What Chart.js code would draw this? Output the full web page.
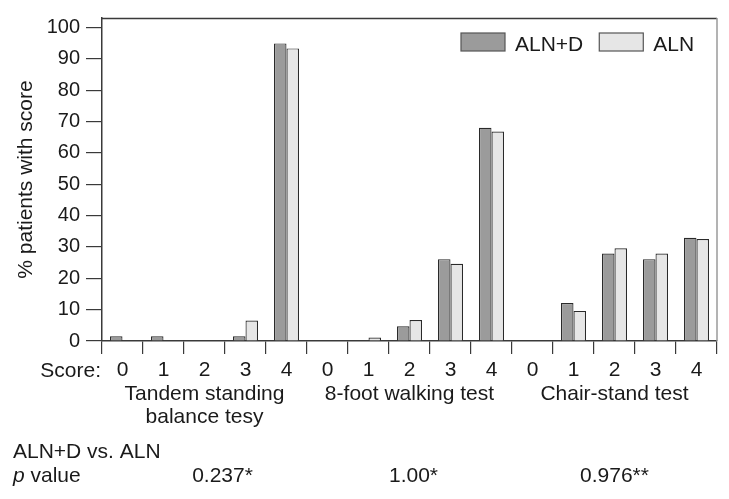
<!DOCTYPE html>
<html>
<head>
<meta charset="utf-8">
<script src="https://cdn.jsdelivr.net/npm/chart.js@4"></script>
<style>
  html, body { margin: 0; padding: 0; background: #fff; }
  #wrap { width: 729px; height: 499px; }
</style>
</head>
<body>
<div id="wrap"><canvas id="chart"></canvas></div>
<script>
'use strict';

/* 데이터 */
const scoreLabels = ['0','1','2','3','4','0','1','2','3','4','0','1','2','3','4'];
const testNames   = [['Tandem standing', 'balance tesy'], ['8-foot walking test'], ['Chair-stand test']];
const pValues     = ['0.237*', '1.00*', '0.976**'];
const seriesNames = ['ALN+D', 'ALN'];
const alnD        = [1.5, 1.5, 0, 1.5, 94.9, 0, 0, 4.7, 26.1, 68.0, 0, 12.1, 27.9, 26.1, 32.9];
const aln         = [0, 0, 0, 6.5, 93.3, 0, 1.1, 6.7, 24.6, 66.8, 0, 9.6, 29.6, 27.9, 32.5];
const yTicks      = [0, 10, 20, 30, 40, 50, 60, 70, 80, 90, 100];

const FONT = "'Liberation Sans', Arial, sans-serif";
const COLORS = {
  dark : '#9b9b9b',
  light: '#e6e6e6',
  edge : '#2a2a2a',
  text : '#1a1a1a',
  axis : '#3a3a3a',
};

/* ── 범례 (플롯 안 오른쪽 위) ── */
const legendPlugin = {
  id: 'boxLegend',
  afterDraw(chart) {
    const { ctx, chartArea: a } = chart;
    ctx.save();
    ctx.font = '21px ' + FONT;
    ctx.textAlign = 'left';
    ctx.textBaseline = 'alphabetic';
    let cx = a.right - 256;
    chart.data.datasets.forEach(ds => {
      ctx.fillStyle = ds.backgroundColor;
      ctx.fillRect(cx, 33, 44, 18);
      ctx.lineWidth = 1.2;
      ctx.strokeStyle = '#555';
      ctx.strokeRect(cx, 33, 44, 18);
      ctx.fillStyle = COLORS.text;
      ctx.fillText(ds.label, cx + 54, 51);
      cx += 54 + ctx.measureText(ds.label).width + 16;
    });
    ctx.restore();
  },
};

/* ── 상단/오른쪽 테두리 + 하단 텍스트 ── */
const extrasPlugin = {
  id: 'extras',
  afterDraw(chart) {
    const { ctx, chartArea: a, scales: { x } } = chart;
    ctx.save();
    ctx.lineWidth = 1.5;
    ctx.strokeStyle = COLORS.axis;
    ctx.beginPath();
    ctx.moveTo(a.left, a.top + 0.5);
    ctx.lineTo(a.right, a.top + 0.5);
    ctx.stroke();
    ctx.strokeStyle = '#9a9a9a';
    ctx.beginPath();
    ctx.moveTo(a.right, a.top);
    ctx.lineTo(a.right, a.bottom);
    ctx.stroke();

    ctx.fillStyle = COLORS.text;
    ctx.font = '21px ' + FONT;
    ctx.textBaseline = 'alphabetic';

    // Score:
    ctx.textAlign = 'right';
    ctx.fillText('Score:', a.left - 1, 377);

    // 검사 이름
    ctx.textAlign = 'center';
    testNames.forEach((lines, g) => {
      const cx = (x.getPixelForValue(g * 5) + x.getPixelForValue(g * 5 + 4)) / 2;
      lines.forEach((line, i) => ctx.fillText(line, cx, 400 + i * 23));
    });

    // p value 행
    ctx.textAlign = 'left';
    ctx.fillText('ALN+D vs. ALN', 13, 458);
    ctx.font = 'italic 21px ' + FONT;
    ctx.fillText('p', 13, 482);
    const pw = ctx.measureText('p ').width;
    ctx.font = '21px ' + FONT;
    ctx.fillText('value', 13 + pw, 482);
    const pOffsets = [18, 4, 0];
    ctx.textAlign = 'center';
    pValues.forEach((p, g) => {
      const cx = (x.getPixelForValue(g * 5) + x.getPixelForValue(g * 5 + 4)) / 2;
      ctx.fillText(p, cx + pOffsets[g], 482);
    });
    ctx.restore();
  },
};

function drawChart() {
  const canvas = document.getElementById('chart');
  new Chart(canvas, {
    type: 'bar',
    data: {
      labels: scoreLabels,
      datasets: [
        { label: seriesNames[0], data: alnD, backgroundColor: COLORS.dark,  borderColor: COLORS.edge, borderWidth: 1.2 },
        { label: seriesNames[1], data: aln,  backgroundColor: COLORS.light, borderColor: COLORS.edge, borderWidth: 1.2 },
      ],
    },
    options: {
      responsive: true, maintainAspectRatio: false,
      animation: false,
      categoryPercentage: 0.61,
      barPercentage: 1.0,
      layout: { padding: { top: 11, right: 12, left: 0, bottom: 0 } },
      plugins: {
        legend: { display: false },
        tooltip: { enabled: false },
      },
      scales: {
        x: {
          grid: { drawOnChartArea: false, tickLength: 13, color: COLORS.axis, lineWidth: 1.2 },
          border: { color: COLORS.axis, width: 1.5 },
          ticks: { color: COLORS.text, font: { family: FONT, size: 21 }, padding: 4, maxRotation: 0, autoSkip: false },
          afterFit(scale) { scale.height = 158; },
        },
        y: {
          min: 0, max: 103,
          afterBuildTicks(scale) { scale.ticks = yTicks.map(v => ({ value: v })); },
          grid: { drawOnChartArea: false, tickLength: 16, color: COLORS.axis, lineWidth: 1.2 },
          border: { color: COLORS.axis, width: 1.5 },
          ticks: { color: COLORS.text, font: { family: "'Liberation Sans Narrow', " + FONT, size: 20 }, padding: 6 },
          title: {
            display: true,
            text: '% patients with score',
            color: COLORS.text,
            font: { family: FONT, size: 21 },
            padding: { top: 14, bottom: 0 },
          },
          afterFit(scale) { scale.width = 102; },
        },
      },
    },
    plugins: [extrasPlugin, legendPlugin],
  });
}

document.addEventListener('DOMContentLoaded', drawChart);
</script>
</body>
</html>
